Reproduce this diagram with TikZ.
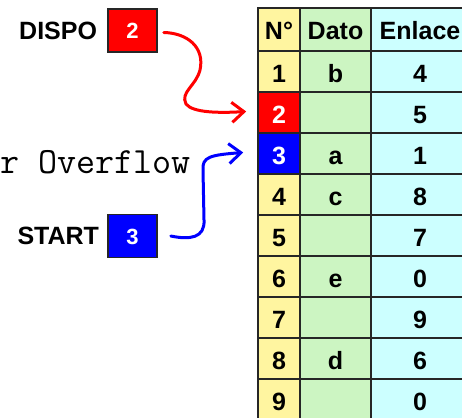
\documentclass[tikz,border=0pt]{standalone}
\usepackage{fontspec}
\setmainfont{Liberation Sans}
\usepackage{xcolor}
\usetikzlibrary{arrows.meta, positioning}

\definecolor{numcol}{RGB}{255,245,160}
\definecolor{datcol}{RGB}{204,245,194}
\definecolor{enlcol}{RGB}{204,255,255}

\begin{document}
\begin{tikzpicture}[x=1pt, y=-1pt,
  cell/.style={draw=black!85, line width=1.6pt, minimum height=41pt, inner sep=0pt, text height=21pt, text depth=0pt, font=\fontsize{25}{25}\selectfont\bfseries},
  numcell/.style={cell, minimum width=42pt},
  datcell/.style={cell, fill=datcol, minimum width=71pt},
  enlcell/.style={cell, fill=enlcol, minimum width=98pt},
  ptrbox/.style={draw=black!85, line width=1.6pt, minimum width=49pt, minimum height=43pt, inner sep=0pt, text height=17pt, text depth=0pt, text=white, font=\fontsize{22}{22}\selectfont\bfseries},
  ptrlabel/.style={inner sep=0pt, font=\fontsize{25}{25}\selectfont\bfseries},
  link/.style={line width=3pt, line cap=round, -{Straight Barb[length=12pt, width=20pt, line width=3pt]}}]

  \clip (0,0) rectangle (462,417);

  % table header
  \node[numcell, fill=numcol, minimum height=43pt] (hn) at (279,29.5) {N°};
  \node[datcell, minimum height=43pt] (hd) at (335.5,29.5) {Dato};
  \node[enlcell, minimum height=43pt] (he) at (420,29.5) {Enlace};

  % table rows
  \foreach \i/\dat/\enl/\bg/\fg in {1/b/4/numcol/black, 2//5/red/white, 3/a/1/blue/white, 4/c/8/numcol/black, 5//7/numcol/black, 6/e/0/numcol/black, 7//9/numcol/black, 8/d/6/numcol/black, 9//0/numcol/black} {
    \node[numcell, fill=\bg, text=\fg] (n\i) at (279,71.5+41*\i-41) {\i};
    \node[datcell] (d\i) at (335.5,71.5+41*\i-41) {\dat};
    \node[enlcell] (e\i) at (420,71.5+41*\i-41) {\enl};
  }

  % pointers
  \node[ptrbox, fill=red] (dispo) at (132.5,30.5) {2};
  \node[ptrlabel, left=10pt of dispo] (dispolbl) {DISPO};
  \node[ptrbox, fill=blue] (start) at (132.5,236) {3};
  \node[ptrlabel, left=8pt of start] (startlbl) {START};

  \node[anchor=base west, inner sep=0pt, font=\ttfamily\fontsize{37}{37}\selectfont] (overflow) at (0,173) {r Overflow};

  \draw[link, red] ([xshift=6pt,yshift=-2pt]dispo.east) .. controls (187,33) and (205,47) .. (200,70)
    .. controls (196,86) and (180,92) .. (186,104)
    .. controls (193,113) and (220,113) .. ([xshift=-11pt,yshift=1pt]n2.west);
  \draw[link, blue] ([xshift=13pt]start.east) .. controls (190,240) and (205,238) .. (204,220)
    -- (203,170) .. controls (202,157) and (210,155) .. ([xshift=-14pt,yshift=1pt]n3.west);

\end{tikzpicture}
\end{document}
